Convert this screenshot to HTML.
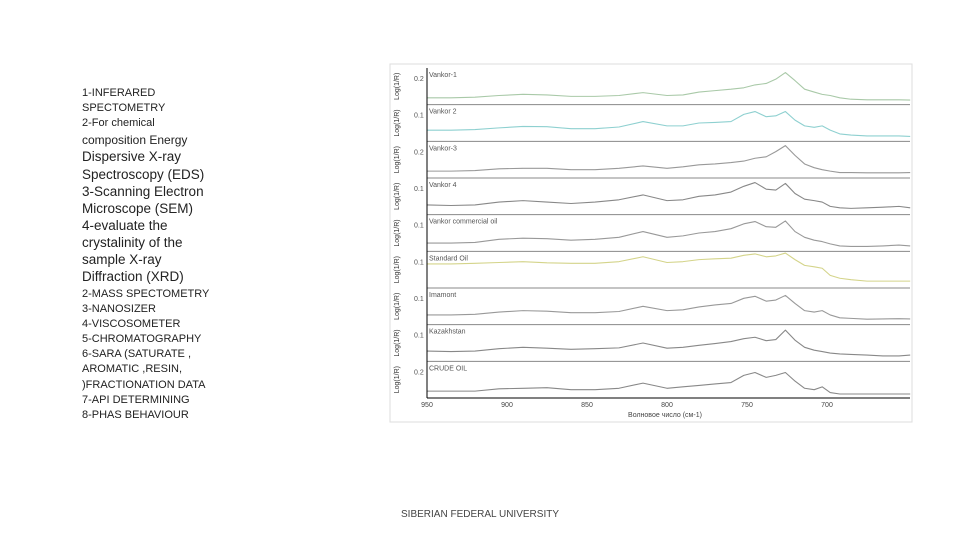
<!DOCTYPE html>
<html><head><meta charset="utf-8"><style>
body{margin:0;width:960px;height:540px;background:#fff;overflow:hidden;font-family:"Liberation Sans",sans-serif;position:relative}
.t{position:absolute;left:82px;color:#222;white-space:nowrap}
.s{font-size:11px}.b{font-size:13.5px}
</style></head><body>
<div>
<div class="t s" style="top:87px">1-INFERARED</div>
<div class="t s" style="top:102px">SPECTOMETRY</div>
<div class="t s" style="top:117px">2-For chemical</div>
<div class="t s" style="top:133px;font-size:12px">composition Energy</div>
<div class="t b" style="top:149px">Dispersive X-ray</div>
<div class="t b" style="top:167px">Spectroscopy (EDS)</div>
<div class="t b" style="top:184px">3-Scanning Electron</div>
<div class="t b" style="top:201px">Microscope (SEM)</div>
<div class="t b" style="top:218px">4-evaluate the</div>
<div class="t b" style="top:235px">crystalinity of the</div>
<div class="t b" style="top:252px">sample X-ray</div>
<div class="t b" style="top:269px">Diffraction (XRD)</div>
<div class="t s" style="top:288px">2-MASS SPECTOMETRY</div>
<div class="t s" style="top:303px">3-NANOSIZER</div>
<div class="t s" style="top:318px">4-VISCOSOMETER</div>
<div class="t s" style="top:333px">5-CHROMATOGRAPHY</div>
<div class="t s" style="top:348px">6-SARA (SATURATE ,</div>
<div class="t s" style="top:363px">AROMATIC ,RESIN,</div>
<div class="t s" style="top:379px">)FRACTIONATION DATA</div>
<div class="t s" style="top:394px">7-API DETERMINING</div>
<div class="t s" style="top:409px">8-PHAS BEHAVIOUR</div>
</div>
<div style="position:absolute;left:0;width:960px;top:509px;text-align:center;font-size:10px;color:#444">SIBERIAN FEDERAL UNIVERSITY</div>
<svg id="c" width="960" height="540" style="position:absolute;left:0;top:0"></svg>
<script>
const wavenumbers=[950,935,920,905,890,875,860,845,830,815,800,790,780,770,760,752,745,738,732,726,720,714,708,703,698,692,685,675,665,655,648];
const seriesNames=["Vankor-1","Vankor 2","Vankor-3","Vankor 4","Vankor commercial oil","Standard Oil","Imamont","Kazakhstan","CRUDE OIL"];
const s1=[0.1,0.1,0.12,0.18,0.22,0.2,0.15,0.15,0.18,0.28,0.18,0.2,0.3,0.35,0.4,0.45,0.55,0.6,0.75,0.98,0.7,0.4,0.3,0.22,0.18,0.1,0.05,0.03,0.03,0.03,0.02];
const s2=[0.25,0.25,0.27,0.33,0.38,0.37,0.3,0.3,0.36,0.55,0.4,0.4,0.5,0.52,0.55,0.8,0.9,0.72,0.75,0.9,0.6,0.4,0.35,0.4,0.25,0.12,0.08,0.05,0.05,0.05,0.03];
const s3=[0.1,0.1,0.12,0.18,0.2,0.2,0.15,0.15,0.2,0.28,0.2,0.25,0.32,0.35,0.4,0.45,0.55,0.6,0.78,0.99,0.65,0.35,0.22,0.15,0.1,0.05,0.05,0.04,0.04,0.04,0.05];
const s4=[0.2,0.18,0.2,0.3,0.35,0.3,0.25,0.3,0.38,0.55,0.35,0.38,0.5,0.55,0.65,0.85,0.98,0.75,0.72,0.95,0.6,0.4,0.35,0.3,0.15,0.1,0.08,0.1,0.12,0.15,0.1];
const s5=[0.15,0.15,0.17,0.28,0.32,0.3,0.25,0.28,0.35,0.55,0.35,0.4,0.5,0.55,0.65,0.82,0.9,0.72,0.7,0.92,0.55,0.35,0.25,0.2,0.12,0.05,0.03,0.03,0.05,0.08,0.05];
const s6=[0.7,0.7,0.72,0.75,0.78,0.74,0.72,0.72,0.78,0.95,0.75,0.78,0.85,0.88,0.9,1.0,1.05,0.95,0.98,1.08,0.85,0.65,0.6,0.55,0.3,0.2,0.15,0.1,0.1,0.1,0.1];
const s7=[0.2,0.2,0.22,0.3,0.35,0.33,0.28,0.28,0.32,0.5,0.35,0.38,0.48,0.55,0.6,0.78,0.85,0.68,0.72,0.88,0.6,0.35,0.3,0.35,0.2,0.1,0.08,0.05,0.06,0.07,0.06];
const s8=[0.22,0.2,0.22,0.3,0.35,0.32,0.28,0.3,0.33,0.5,0.32,0.35,0.42,0.48,0.55,0.65,0.7,0.58,0.62,0.95,0.6,0.35,0.25,0.2,0.15,0.12,0.1,0.08,0.05,0.05,0.08];
const s9=[0.1,0.1,0.1,0.18,0.2,0.22,0.15,0.15,0.2,0.38,0.2,0.25,0.3,0.35,0.4,0.65,0.75,0.58,0.65,0.75,0.45,0.2,0.15,0.25,0.05,0.0,0.0,0.0,0.0,0.0,0.0];
const seriesValues=[s1,s2,s3,s4,s5,s6,s7,s8,s9];
const seriesColors=["#a9c9a8","#8ed0d0","#999","#888","#999","#d4d48a","#999","#888","#888"];
const tickLabels=["0.2","0.1","0.2","0.1","0.1","0.1","0.1","0.1","0.2"];
const xTicks=[950,900,850,800,750,700];
const xAxisTitle="Волновое число (см-1)";
const NS="http://www.w3.org/2000/svg",svg=document.getElementById('c');
const L=427,R=910,T=68,B=398,ph=(B-T)/9;
const xs=w=>L+(950-w)*1.6;
function mk(tag,at){const e=document.createElementNS(NS,tag);for(const k in at)e.setAttribute(k,at[k]);svg.appendChild(e);return e;}
let f=mk('rect',{x:390,y:64,width:522,height:358,fill:'none',stroke:'#ddd'});


seriesValues.forEach((vals,i)=>{
 const top=T+i*ph,bot=top+ph;
 const ys=v=>bot-4-v*(ph-8);
 if(i>0){let sep=mk('line',{x1:L,x2:R,y1:top,y2:top,stroke:'#888','stroke-width':1});
 
 }
 let p=mk('polyline',{points:vals.map((v,j)=>xs(wavenumbers[j])+','+ys(v)).join(' '),fill:'none',stroke:seriesColors[i],'stroke-width':1.1,'stroke-linejoin':'round'});
 
 
 let lb=mk('text',{x:L+2,y:top+9,'font-size':7,fill:'#555'});lb.textContent=seriesNames[i];
 
 
 let tk=mk('text',{x:414,y:top+13,'font-size':7,fill:'#555'});tk.textContent=tickLabels[i];
 
 
 let yl=mk('text',{x:0,y:0,'font-size':7,fill:'#333','text-anchor':'middle',transform:`translate(399,${top+ph/2}) rotate(-90)`});yl.textContent="Log(1/R)";
 
 
});
let ax=mk('line',{x1:L,x2:L,y1:T,y2:B,stroke:'#000','stroke-width':1});


let bx=mk('line',{x1:L,x2:R,y1:B,y2:B,stroke:'#000','stroke-width':1});


xTicks.forEach(w=>{let t=mk('text',{x:xs(w),y:B+9,'font-size':7,fill:'#444','text-anchor':'middle'});t.textContent=w;
 
 });
let xt=mk('text',{x:665,y:B+19,'font-size':7,fill:'#444','text-anchor':'middle'});xt.textContent=xAxisTitle;


</script>
</body></html>
